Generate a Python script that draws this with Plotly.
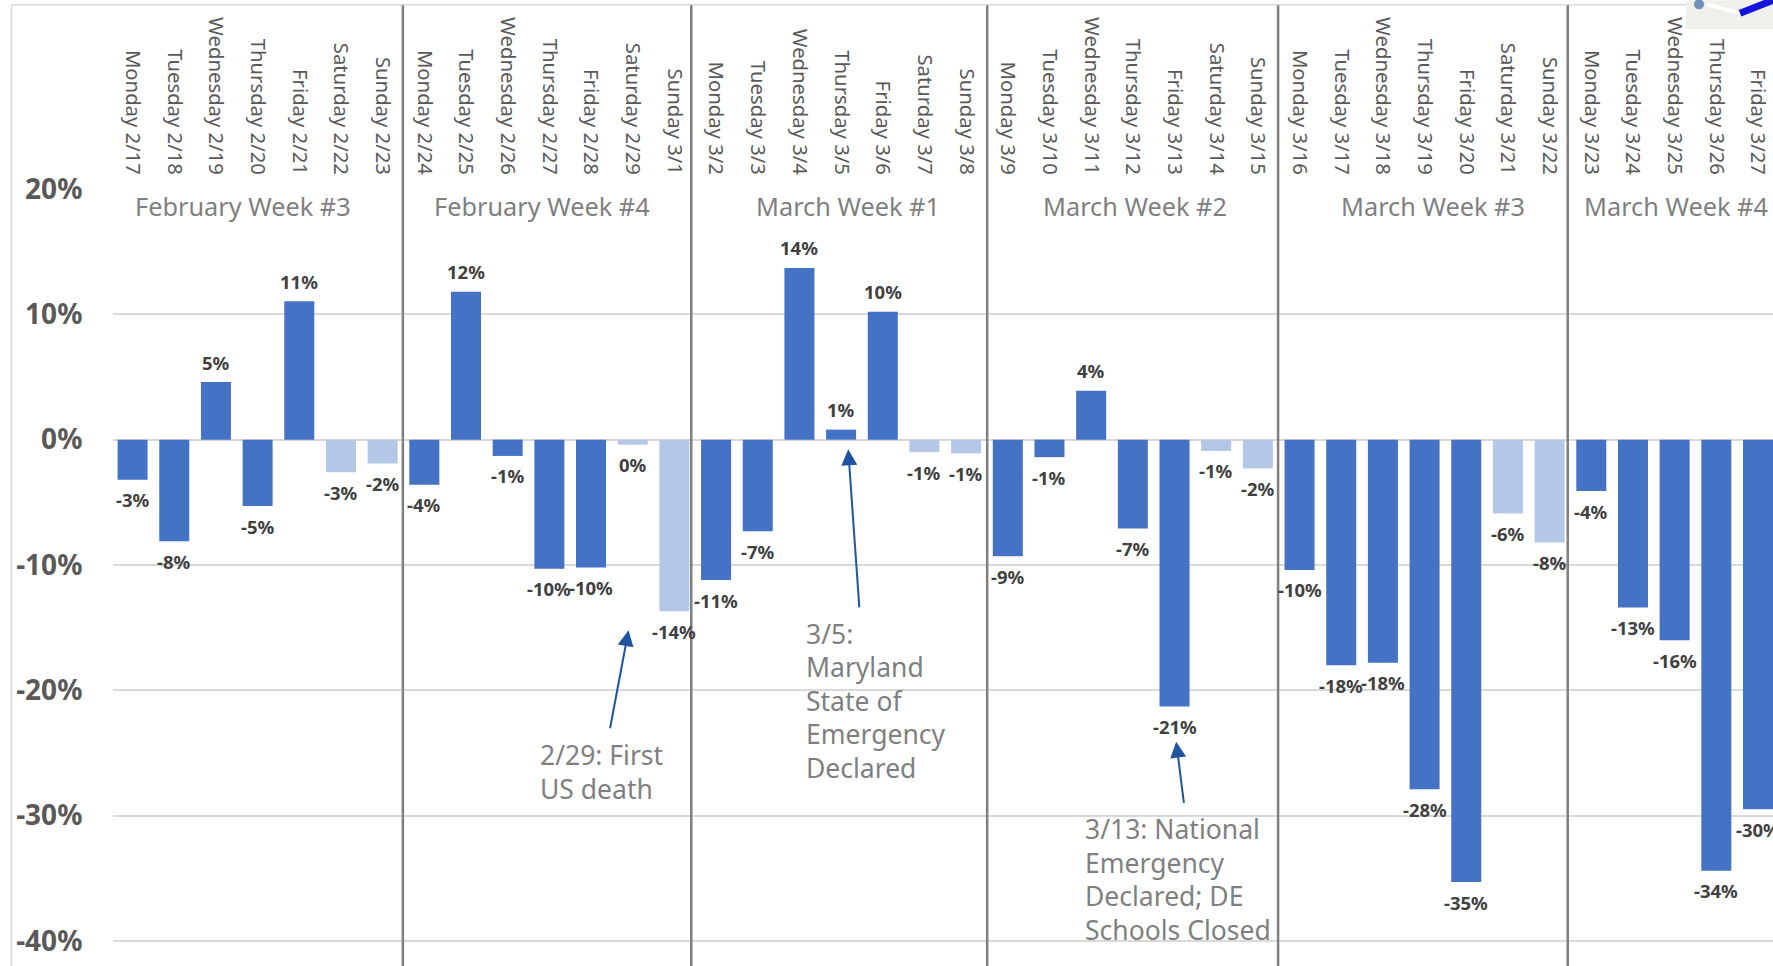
import plotly.graph_objects as go

days = ["Monday 2/17","Tuesday 2/18","Wednesday 2/19","Thursday 2/20","Friday 2/21","Saturday 2/22","Sunday 2/23",
        "Monday 2/24","Tuesday 2/25","Wednesday 2/26","Thursday 2/27","Friday 2/28","Saturday 2/29","Sunday 3/1",
        "Monday 3/2","Tuesday 3/3","Wednesday 3/4","Thursday 3/5","Friday 3/6","Saturday 3/7","Sunday 3/8",
        "Monday 3/9","Tuesday 3/10","Wednesday 3/11","Thursday 3/12","Friday 3/13","Saturday 3/14","Sunday 3/15",
        "Monday 3/16","Tuesday 3/17","Wednesday 3/18","Thursday 3/19","Friday 3/20","Saturday 3/21","Sunday 3/22",
        "Monday 3/23","Tuesday 3/24","Wednesday 3/25","Thursday 3/26","Friday 3/27"]
values = [-3.2,-8.1,4.6,-5.3,11.05,-2.6,-1.9,
          -3.6,11.8,-1.3,-10.3,-10.2,-0.4,-13.7,
          -11.2,-7.3,13.7,0.8,10.2,-1.0,-1.1,
          -9.3,-1.4,3.9,-7.1,-21.3,-0.9,-2.3,
          -10.4,-18.0,-17.8,-27.9,-35.3,-5.9,-8.2,
          -4.1,-13.4,-16.0,-34.4,-29.5]
labels = ["-3%","-8%","5%","-5%","11%","-3%","-2%",
          "-4%","12%","-1%","-10%","-10%","0%","-14%",
          "-11%","-7%","14%","1%","10%","-1%","-1%",
          "-9%","-1%","4%","-7%","-21%","-1%","-2%",
          "-10%","-18%","-18%","-28%","-35%","-6%","-8%",
          "-4%","-13%","-16%","-34%","-30%"]
weeks = ["February Week #3","February Week #4","March Week #1","March Week #2","March Week #3","March Week #4"]
week_centers = [2.64,9.83,17.17,24.06,31.21,37.03]
separators = [6.485,13.405,20.505,27.485,34.435]
y_ticks = [20,10,0,-10,-20,-30,-40]
notes = [(["2/29: First","US death"],9.72,-25.2),
         (["3/5:","Maryland","State of","Emergency","Declared"],16.12,-15.5),
         (["3/13: National","Emergency","Declared; DE","Schools Closed"],22.8,-31.1)]
arrows = [(11.9,-15.2,11.45,-23.15),(17.17,-0.77,17.44,-13.5),(25.04,-24.1,25.23,-29.1)]

W,H=1773,966
L,T=112.5,188.7
PW,PH=W-L,H-T
def px(x): return (x-L)/PW
def py(y): return 1-(y-T)/PH

colors = ["#B4C7E7" if d.startswith("S") else "#4472C4" for d in days]
BF="Noto Sans"
xs=list(range(len(days)))
fig = go.Figure(go.Bar(x=xs,y=values,marker=dict(color=colors,line_width=0),width=0.72,hoverinfo="skip",showlegend=False))

shapes=[dict(type="line",xref="paper",yref="paper",x0=px(11),x1=px(11),y0=py(4.5),y1=0,line=dict(color="#D9D9D9",width=1.5)),
        dict(type="line",xref="paper",yref="paper",x0=px(11),x1=1,y0=py(4.5),y1=py(4.5),line=dict(color="#D9D9D9",width=1.5))]
for s in separators:
    shapes.append(dict(type="line",xref="x",yref="paper",x0=s,x1=s,y0=py(5),y1=0,line=dict(color="#7F7F7F",width=2.5)))
# small map fragment in the top right corner
shapes += [
    dict(type="rect",xref="paper",yref="paper",x0=px(1686),x1=1,y0=py(29),y1=py(0),fillcolor="#EFEFEC",line_width=0),
    dict(type="line",xref="paper",yref="paper",x0=px(1707),x1=px(1740),y0=py(4),y1=py(13),line=dict(color="white",width=4)),
    dict(type="line",xref="paper",yref="paper",x0=px(1740),x1=px(1775),y0=py(13),y1=py(-1),line=dict(color="#1414DC",width=7)),
    dict(type="circle",xref="paper",yref="paper",x0=px(1694),x1=px(1704),y0=py(9),y1=py(-1),fillcolor="#6F8FB8",line_width=0),
]

ann=[]
for w,c in zip(weeks,week_centers):
    ann.append(dict(x=c,y=18.65,xref="x",yref="y",text=w,showarrow=False,font=dict(family=BF,size=25.3,color="#7F7F7F")))
for lines,x,y in notes:
    for i,t in enumerate(lines):
        ann.append(dict(x=x,y=y,yshift=-i*33.4,xref="x",yref="y",text=t,showarrow=False,align="left",xanchor="left",yanchor="middle",
                        font=dict(family=BF,size=26.5,color="#7F7F7F")))
for x,y,ax,ay in arrows:
    ann.append(dict(x=x,y=y,ax=ax,ay=ay,xref="x",yref="y",axref="x",ayref="y",text="",showarrow=True,
                    arrowhead=2,arrowsize=1.6,arrowwidth=2,arrowcolor="#1F55A0"))
for x,v,t in zip(xs,values,labels):
    ann.append(dict(x=x,y=v,yshift=20 if v>0 else -20,xref="x",yref="y",text=t,showarrow=False,yanchor="middle",
                    font=dict(family=BF,size=18.5,color="#404040",weight="bold")))

fig.update_layout(width=W,height=H,margin=dict(l=L,r=0,t=T,b=0,pad=0),paper_bgcolor="white",plot_bgcolor="white",
    bargap=0.28,shapes=shapes,annotations=ann,showlegend=False,
    xaxis=dict(range=[-0.47,39.36],side="top",tickmode="array",tickvals=xs,ticktext=days,tickangle=90,
               showgrid=False,zeroline=False,showline=False,ticks="",automargin=False,ticklabeloverflow="allow",ticklabelstandoff=10,
               tickfont=dict(family=BF,size=20.3,color="#595959")),
    yaxis=dict(range=[-42,20],tickmode="array",tickvals=y_ticks,ticktext=[f"{v}%" for v in y_ticks],
               gridcolor="#D9D9D9",gridwidth=1.5,zeroline=False,showline=False,ticks="outside",ticklen=24,tickcolor="rgba(0,0,0,0)",automargin=False,
               tickfont=dict(family=BF,size=28,color="#595959",weight="bold")))
fig.write_html("out.html",post_script="document.body.style.margin='0';",config={"displayModeBar":False})
